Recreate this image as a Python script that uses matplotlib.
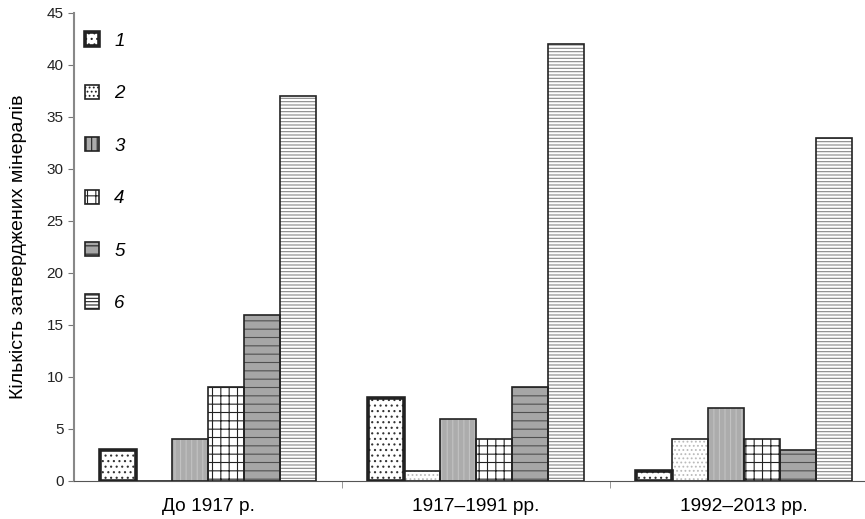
import numpy as np
import matplotlib.pyplot as plt

# data
periods = ['До 1917 р.', '1917–1991 рр.', '1992–2013 рр.']
series_names = ['1', '2', '3', '4', '5', '6']
counts_1 = [3, 8, 1]
counts_2 = [0, 1, 4]
counts_3 = [4, 6, 7]
counts_4 = [9, 4, 4]
counts_5 = [16, 9, 3]
counts_6 = [37, 42, 33]
all_counts = [counts_1, counts_2, counts_3, counts_4, counts_5, counts_6]

# look of each series: face, hatch, hatch colour, edge width
styles = [
    dict(face='white', hatch='...', hcol='#333333', lw=2.6),
    dict(face='white', hatch='....', hcol='#bbbbbb', lw=1.2),
    dict(face='#acacac', hatch='|||', hcol='#c2c2c2', lw=1.2),
    dict(face='white', hatch='++', hcol='#222222', lw=1.2),
    dict(face='#a6a6a6', hatch='--', hcol='#505050', lw=1.2),
    dict(face='white', hatch='-----', hcol='#888888', lw=1.2),
]

plt.rcParams['font.family'] = ['Liberation Sans', 'DejaVu Sans']
plt.rcParams['hatch.linewidth'] = 0.8

fig = plt.figure(figsize=(8.65, 5.19), dpi=100)
ax = fig.add_axes([74 / 865, 1 - 481 / 519, (865 - 74) / 865, (481 - 13) / 519])

x = np.arange(len(periods))
width = 0.134
handles = []
for i, vals in enumerate(all_counts):
    st = styles[i]
    pos = x + (i - 2.5) * width
    ax.bar(pos, vals, width, color=st['face'], hatch=st['hatch'],
           edgecolor=st['hcol'], linewidth=0, zorder=2)
    ax.bar(pos, vals, width, fill=False, edgecolor='#222222',
           linewidth=st['lw'], zorder=3)
    # legend swatch
    h = plt.Rectangle((0, 0), 1, 1, facecolor=st['face'], hatch=st['hatch'],
                      edgecolor='#222222', linewidth=st['lw'])
    handles.append(h)

ax.set_xlim(-0.5, -0.5 + 791 / 268)
ax.set_ylim(0, 45)
ax.set_yticks(range(0, 46, 5))
ax.tick_params(axis='y', labelsize=11, colors='#222222', length=4, color='#777777')
ax.set_xticks(x)
ax.set_xticklabels(periods, fontsize=13.8)
ax.tick_params(axis='x', length=0, pad=12)
ax.set_xticks([0.5, 1.5], minor=True)
ax.tick_params(axis='x', which='minor', length=5, color='#888888', direction='out')

for s in ['top', 'right']:
    ax.spines[s].set_visible(False)
ax.spines['left'].set_color('#888888')
ax.spines['left'].set_linewidth(1.5)
ax.spines['bottom'].set_color('#555555')

ax.set_ylabel('Кількість затверджених мінералів', fontsize=14, labelpad=14)

leg = ax.legend(handles, series_names, loc='upper left', bbox_to_anchor=(-0.008, 0.995),
                frameon=False, handlelength=0.78, handleheight=0.78,
                labelspacing=1.86, handletextpad=0.8,
                prop={'size': 13.5, 'style': 'italic'})

fig.savefig('out.png', dpi=100)
